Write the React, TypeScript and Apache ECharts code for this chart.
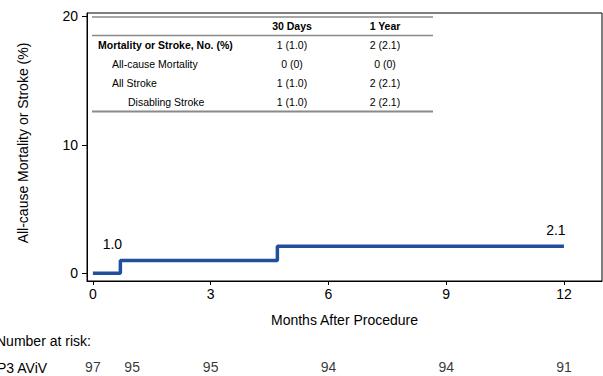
import React, { useEffect, useRef } from "react";
import * as echarts from "echarts";

// Kaplan-Meier step data (months, %)
const stepMonths = [0, 0.7, 4.7, 12];
const stepValues = [0, 1.0, 2.1, 2.1];
const stepLabels = ["", "1.0", "", "2.1"];

const xTicks = [0, 3, 6, 9, 12];
const yTicks = [0, 10, 20];

// Number at risk
const riskMonths = [0, 1, 3, 6, 9, 12];
const riskCounts = [97, 95, 95, 94, 94, 91];
const riskGroup = "P3 AViV";

// Inset table
const tableHeaders = ["30 Days", "1 Year"];
const tableRowLabels = ["Mortality or Stroke, No. (%)", "All-cause Mortality", "All Stroke", "Disabling Stroke"];
const table30Days = ["1 (1.0)", "0 (0)", "1 (1.0)", "1 (1.0)"];
const table1Year = ["2 (2.1)", "0 (0)", "2 (2.1)", "2 (2.1)"];

const FONT = '"Liberation Sans", Arial, sans-serif';

export default function App() {
  const ref = useRef<HTMLDivElement>(null);
  useEffect(() => {
    if (!ref.current) return;
    const chart = echarts.init(ref.current, null, { renderer: "svg" });

    const gridLeft = 87;
    const gridTop = 13;
    const gridW = 515;
    const gridH = 268;

    const rowY = [45, 64, 83, 102];
    const rowX = [98, 112, 112, 128];
    const colX = [292, 385];

    const tableGraphics: any[] = [];
    tableHeaders.forEach((h, i) => {
      tableGraphics.push({
        type: "text",
        x: colX[i],
        y: 26,
        style: { text: h, font: `bold 10.5px ${FONT}`, fill: "#000", align: "center", verticalAlign: "middle" },
      });
    });
    tableRowLabels.forEach((lab, i) => {
      tableGraphics.push({
        type: "text",
        x: rowX[i],
        y: rowY[i],
        style: {
          text: lab,
          font: `${i === 0 ? "bold " : ""}10.5px ${FONT}`,
          fill: "#000",
          align: "left",
          verticalAlign: "middle",
        },
      });
      tableGraphics.push({
        type: "text",
        x: colX[0],
        y: rowY[i],
        style: { text: table30Days[i], font: `10.5px ${FONT}`, fill: "#000", align: "center", verticalAlign: "middle" },
      });
      tableGraphics.push({
        type: "text",
        x: colX[1],
        y: rowY[i],
        style: { text: table1Year[i], font: `10.5px ${FONT}`, fill: "#000", align: "center", verticalAlign: "middle" },
      });
    });
    [17, 35.5, 111.5].forEach((y, i) => {
      tableGraphics.push({
        type: "line",
        shape: { x1: 92, y1: y, x2: 433, y2: y },
        style: { stroke: "#8a8a8a", lineWidth: i === 2 ? 2 : 1.5 },
      });
    });

    const stepData = stepMonths.map((m, i) => {
      const item: any = { value: [m, stepValues[i]] };
      if (stepLabels[i]) {
        item.label = {
          show: true,
          formatter: stepLabels[i],
          position: "top",
          offset: [-8, -4],
          fontFamily: FONT,
          fontSize: 14,
          color: "#000",
        };
      }
      return item;
    });

    const option: any = {
      animation: false,
      textStyle: { fontFamily: FONT },
      grid: [
        { left: gridLeft, top: gridTop, width: gridW, height: gridH, show: true, borderColor: "#000", borderWidth: 1 },
        { left: gridLeft, top: 358, width: gridW, height: 20 },
      ],
      xAxis: [
        {
          type: "value",
          gridIndex: 0,
          min: -0.15,
          max: 12.97,
          splitLine: { show: false },
          axisLine: { show: true, onZero: false, lineStyle: { color: "#000", width: 1 } },
          axisTick: { show: true, customValues: xTicks, length: 4, lineStyle: { color: "#000" } },
          axisLabel: { customValues: xTicks, color: "#000", fontSize: 14, margin: 6, fontFamily: FONT },
          name: "Months After Procedure",
          nameLocation: "middle",
          nameGap: 32,
          nameTextStyle: { color: "#000", fontSize: 14, fontFamily: FONT },
        },
        { type: "value", gridIndex: 1, min: -0.15, max: 12.97, show: false },
      ],
      yAxis: [
        {
          type: "value",
          gridIndex: 0,
          min: -0.6,
          max: 20.25,
          splitLine: { show: false },
          axisLine: { show: true, onZero: false, lineStyle: { color: "#000", width: 1 } },
          axisTick: { show: true, customValues: yTicks, length: 5, lineStyle: { color: "#000" } },
          axisLabel: { customValues: yTicks, color: "#000", fontSize: 14, margin: 9, fontFamily: FONT },
        },
        { type: "value", gridIndex: 1, min: 0, max: 1, show: false },
      ],
      series: [
        {
          type: "line",
          xAxisIndex: 0,
          yAxisIndex: 0,
          step: "end",
          data: stepData,
          showSymbol: true,
          symbol: "circle",
          symbolSize: 0,
          lineStyle: { color: "#1f4f9d", width: 3.5 },
          itemStyle: { color: "#1f4f9d" },
        },
        {
          type: "scatter",
          xAxisIndex: 1,
          yAxisIndex: 1,
          symbolSize: 0,
          data: riskMonths.map((m, i) => [m, 0.5, riskCounts[i]]),
          label: {
            show: true,
            position: "inside",
            formatter: (p: any) => String(p.value[2]),
            color: "#000",
            fontSize: 14,
            fontFamily: FONT,
          },
        },
      ],
      graphic: [
        ...tableGraphics,
        {
          type: "text",
          x: 23,
          y: 143,
          rotation: Math.PI / 2,
          style: {
            text: "All-cause Mortality or Stroke (%)",
            font: `14px ${FONT}`,
            fill: "#000",
            align: "center",
            verticalAlign: "middle",
          },
        },
        {
          type: "text",
          x: -4,
          y: 341,
          style: { text: "Number at risk:", font: `14px ${FONT}`, fill: "#000", align: "left", verticalAlign: "middle" },
        },
        {
          type: "text",
          x: -3,
          y: 368,
          style: { text: riskGroup, font: `14px ${FONT}`, fill: "#000", align: "left", verticalAlign: "middle" },
        },
      ],
    };
    chart.setOption(option);
    return () => chart.dispose();
  }, []);

  return <div ref={ref} style={{ width: 603, height: 376, position: "absolute", left: 0, top: 0 }} />;
}
